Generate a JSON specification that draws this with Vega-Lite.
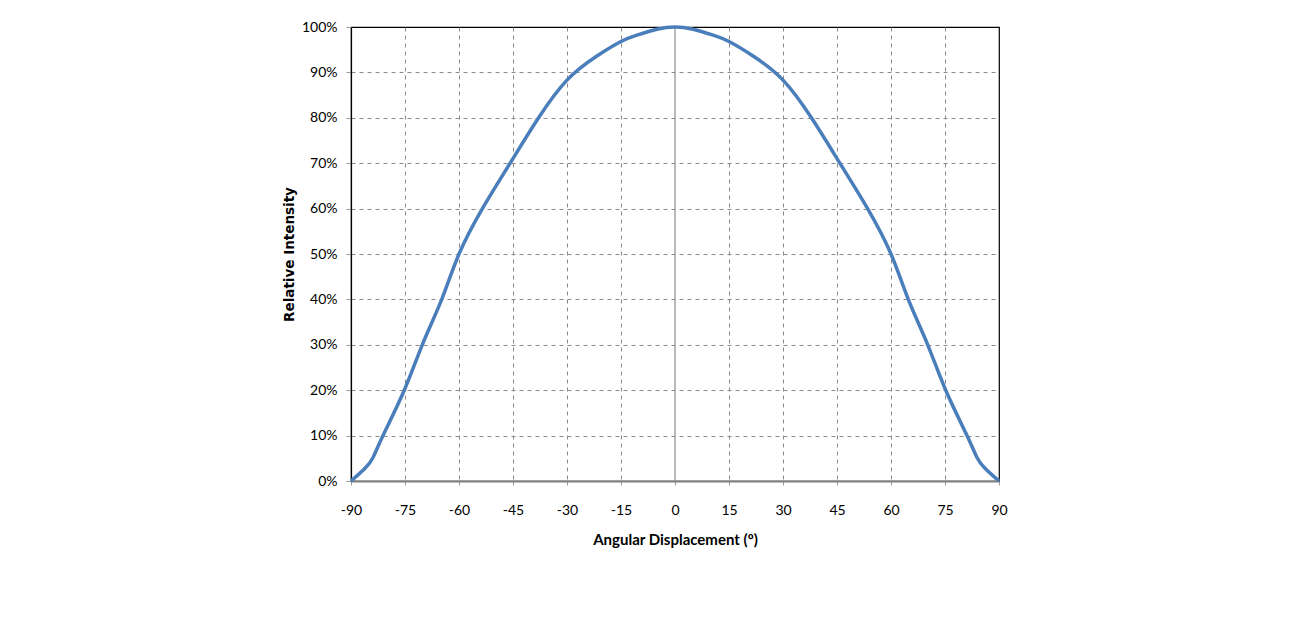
{
  "$schema": "https://vega.github.io/schema/vega-lite/v6.json",
  "width": 648,
  "height": 454,
  "autosize": {"type": "none"},
  "padding": {"left": 351, "top": 27, "right": 313, "bottom": 144},
  "background": "white",
  "config": {
    "view": {"stroke": "black", "strokeWidth": 1.2},
    "font": "Lato"
  },
  "layer": [
    {
      "data": {"values": [{"angle": 0}]},
      "mark": {"type": "rule", "color": "#8c8c8c", "strokeWidth": 1.2},
      "encoding": {"x": {"field": "angle", "type": "quantitative", "scale": {"domain": [-90, 90]}}}
    },
    {
      "data": {
        "values": [
          {"angle": -90, "intensity": 0},
          {"angle": -86.1, "intensity": 0.028},
          {"angle": -83.8, "intensity": 0.053},
          {"angle": -81.3, "intensity": 0.097},
          {"angle": -75.2, "intensity": 0.2},
          {"angle": -70.2, "intensity": 0.3},
          {"angle": -64.8, "intensity": 0.4},
          {"angle": -60, "intensity": 0.5},
          {"angle": -53.5, "intensity": 0.6},
          {"angle": -45.8, "intensity": 0.7},
          {"angle": -37.9, "intensity": 0.8},
          {"angle": -30, "intensity": 0.883},
          {"angle": -21.9, "intensity": 0.935},
          {"angle": -15, "intensity": 0.968},
          {"angle": -10.6, "intensity": 0.982},
          {"angle": -5, "intensity": 0.995},
          {"angle": 0, "intensity": 1.0},
          {"angle": 5, "intensity": 0.995},
          {"angle": 10.6, "intensity": 0.982},
          {"angle": 15, "intensity": 0.968},
          {"angle": 21.9, "intensity": 0.935},
          {"angle": 30, "intensity": 0.883},
          {"angle": 37.9, "intensity": 0.8},
          {"angle": 45.8, "intensity": 0.7},
          {"angle": 53.5, "intensity": 0.6},
          {"angle": 60, "intensity": 0.5},
          {"angle": 64.8, "intensity": 0.4},
          {"angle": 70.2, "intensity": 0.3},
          {"angle": 75.2, "intensity": 0.2},
          {"angle": 81.3, "intensity": 0.097},
          {"angle": 83.8, "intensity": 0.053},
          {"angle": 86.1, "intensity": 0.028},
          {"angle": 90, "intensity": 0}
        ]
      },
      "mark": {"type": "line", "color": "#4a7ebb", "strokeWidth": 3.5, "interpolate": "natural"},
      "encoding": {
        "x": {
          "field": "angle",
          "type": "quantitative",
          "scale": {"domain": [-90, 90], "nice": false},
          "axis": {
            "values": [-90, -75, -60, -45, -30, -15, 0, 15, 30, 45, 60, 75, 90],
            "labelExpr": "toString(datum.value)",
            "title": "Angular Displacement (º)",
            "titleFont": "Lato",
            "titleFontSize": 15,
            "titleFontWeight": "bold",
            "titleColor": "black",
            "titlePadding": 15,
            "labelFont": "Lato",
            "labelFontSize": 14,
            "labelColor": "black",
            "labelPadding": 15,
            "labelFlush": false,
            "domainColor": "#808080",
            "domainWidth": 2,
            "tickColor": "#999999",
            "tickSize": 7,
            "tickDash": [4, 3],
            "grid": true,
            "gridColor": "#888888",
            "gridDash": [4, 4],
            "gridWidth": 1,
            "gridOpacity": {"condition": {"test": "abs(datum.value) == 90 || datum.value == 0", "value": 0}, "value": 1}
          }
        },
        "y": {
          "field": "intensity",
          "type": "quantitative",
          "scale": {"domain": [0, 1], "nice": false},
          "axis": {
            "values": [0, 0.1, 0.2, 0.3, 0.4, 0.5, 0.6, 0.7, 0.8, 0.9, 1.0],
            "format": ".0%",
            "title": "Relative Intensity",
            "titleFont": "DejaVu Sans",
            "titleFontSize": 13.5,
            "titleFontWeight": "bold",
            "titleColor": "black",
            "titlePadding": 5,
            "labelFont": "Lato",
            "labelFontSize": 14,
            "labelColor": "black",
            "labelPadding": 9,
            "labelFlush": false,
            "domainColor": "black",
            "domainWidth": 1.2,
            "tickColor": "#999999",
            "tickSize": 5,
            "grid": true,
            "gridColor": "#888888",
            "gridDash": [4, 4],
            "gridWidth": 1,
            "gridOpacity": {"condition": {"test": "datum.value >= 1 || datum.value <= 0", "value": 0}, "value": 1}
          }
        }
      }
    }
  ]
}
